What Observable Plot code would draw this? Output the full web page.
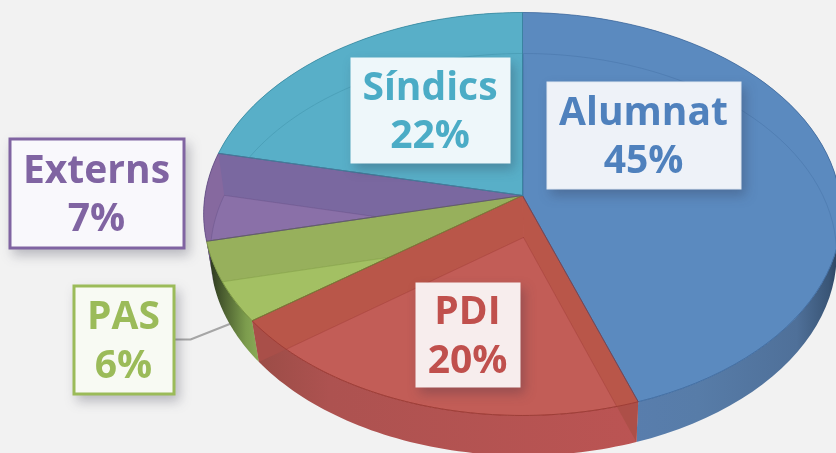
<!DOCTYPE html>
<html>
<head>
<meta charset="utf-8">
<script src="https://cdn.jsdelivr.net/npm/d3@7"></script>
<script src="https://cdn.jsdelivr.net/npm/@observablehq/plot@0.6"></script>
<style>
html,body{margin:0;padding:0;background:#f2f2f2;overflow:hidden}
svg{display:block;filter:blur(.7px)}
g[aria-label="rect"]{filter:drop-shadow(4px 6px 6px rgba(40,40,60,.28))}
</style>
</head>
<body>
<div id="chart"></div>
<script>
// Data
const names  = ["Alumnat", "PDI", "PAS", "Externs", "Síndics"];
const shares = [44.6, 20.3, 6.5, 7.05, 21.55]; // slice sizes
const labels = [45, 20, 6, 7, 22];             // printed percentages

// Colours
const textColor = ["#4f81bd", "#c0504d", "#9bbb59", "#8064a2", "#4bacc6"];
const faceColor = ["#5b8abf", "#c25d57", "#a3c063", "#86699f", "#58afc8"];
const floorColor = ["#5b8abf", "#c25d57", "#a3c063", "#8a70a8", "#58afc8"];
const sideColor = ["#5b8abf", "#b95649", "#97b05c", "#7a68a0", "#58afc8"];
const wallFill = ["url(#wallBlue)", "url(#wallRed)", "url(#wallGreen)", "#6a5488", "#3f8ea3"];
const lineColor = ["#3f6a9e", "#96352f", "#6f8a3a", "#5d4a80", "#37889f"];

// Label boxes: [x1, x2, y1, y2]
const boxRects = [[547, 741, 82, 189], [416, 520, 283, 387], [74, 174, 286, 394], [10, 184, 139, 248], [351, 510, 58, 163]];
const boxFill = ["#eef2f8", "#f7eded", "#f8faf3", "#f9f8fc", "#eef7fa"];
const boxStroke = ["#dfe7f2", "#f7eded", "#9bbb59", "#8064a2", "#eef7fa"];
const boxStrokeWidth = [1, 1, 3, 3, 1];

// Projection of the tilted disc
const rimTop = {cx: 522, cy: 195, f: 317.5, g: 199.8, k: 0.0918};
const rimLow = {cx: 523, cy: 237, f: 312, g: 199.6, k: 0.0846};
const project = (p, t) => {
  const X = Math.sin(t), Y = Math.cos(t), w = 1 + p.k * Y;
  return {x: p.cx + p.f * X / w, y: p.cy - p.g * Y / w};
};
const arc = (p, a, b) => d3.range(0, 61).map(i => project(p, a + (b - a) * i / 60));
const apex = p => ({x: p.cx, y: p.cy});
const close = pts => [...pts, pts[0]];

function clipConvex(subject, clip) {
  let area = 0;
  clip.forEach((a, i) => { const b = clip[(i + 1) % clip.length]; area += a.x * b.y - b.x * a.y; });
  const side = (a, b, p) => ((b.x - a.x) * (p.y - a.y) - (b.y - a.y) * (p.x - a.x)) * Math.sign(area);
  let out = subject;
  for (let i = 0; i < clip.length; ++i) {
    const a = clip[i], b = clip[(i + 1) % clip.length];
    if (Math.hypot(a.x - b.x, a.y - b.y) < 1e-6) continue;
    const src = out; out = [];
    for (let j = 0; j < src.length; ++j) {
      const p = src[j], q = src[(j + 1) % src.length];
      const sp = side(a, b, p), sq = side(a, b, q);
      if (sp >= 0) out.push(p);
      if (sp * sq < 0) {
        const u = sp / (sp - sq);
        out.push({x: p.x + (q.x - p.x) * u, y: p.y + (q.y - p.y) * u});
      }
    }
    if (!out.length) break;
  }
  return out;
}

let acc = 0;
const slices = names.map((name, i) => {
  const a = acc / 100 * 2 * Math.PI; acc += shares[i];
  const b = acc / 100 * 2 * Math.PI;
  const top = [apex(rimTop), ...arc(rimTop, a, b)];
  const low = [apex(rimLow), ...arc(rimLow, a, b)];
  const wall = [...arc(rimTop, a, b), ...arc(rimLow, a, b).reverse()];
  const quad = t => [apex(rimTop), project(rimTop, t), project(rimLow, t), apex(rimLow)];
  return {i, a, b, top, low, wall, sideA: quad(a), sideB: quad(b),
    floor: clipConvex(low, top)};
});

const poly = (pts, o) => Plot.line(close(pts), {x: "x", y: "y", curve: "linear", ...o});
const inSide = (s, q) => clipConvex(q, s.top);

const gradient = (defs, id, stops) => {
  const g = defs.append("linearGradient").attr("id", id);
  stops.forEach(([o, c]) => g.append("stop").attr("offset", o).attr("stop-color", c));
};
const defsMark = () => {
  const defs = d3.create("svg:defs");
  gradient(defs, "wallBlue", [[0, "#5b80b5"], [.55, "#577ca8"], [.86, "#4f7099"], [.96, "#3a5677"], [1, "#283c58"]]);
  gradient(defs, "wallRed", [[0, "#9a4c46"], [.2, "#ad5250"], [1, "#bb5453"]]);
  gradient(defs, "wallGreen", [[0, "#26301c"], [.35, "#4f6332"], [.75, "#7c9c4d"], [1, "#8aab57"]]);
  return defs.node();
};

const boxes = names.map((name, i) => ({
  x1: boxRects[i][0], x2: boxRects[i][1], y1: boxRects[i][2], y2: boxRects[i][3],
  fill: boxFill[i], stroke: boxStroke[i], sw: boxStrokeWidth[i],
  color: textColor[i], text: `${name}\n${labels[i]}%`
}));

const leader = [{x: 175, y: 339}, {x: 190, y: 339}, {x: 233, y: 322}];

const chart = Plot.plot({
  width: 836, height: 453, margin: 0,
  style: {background: "#f2f2f2"},
  x: {domain: [0, 836], range: [0, 836], axis: null},
  y: {domain: [0, 453], range: [0, 453], axis: null},
  marks: [
    defsMark,
    Plot.line(leader, {x: "x", y: "y", stroke: "#a6a6a6", strokeWidth: 2, curve: "linear"}),
    // outer walls
    slices.map(s => poly(s.wall, {fill: wallFill[s.i], stroke: "none"})),
    // wedge side seen through the front slice
    poly(slices[1].sideA, {fill: "#ad4f48", stroke: "none"}),
    poly(slices[1].sideB, {fill: "#a94f49", stroke: "none"}),
    // top faces
    slices.map(s => poly(s.top, {fill: faceColor[s.i], stroke: "none"})),
    // side walls seen through the top face
    slices.map(s => [s.sideA, s.sideB].map(q => {
      const c = inSide(s, q);
      return c.length > 2 ? poly(c, {fill: sideColor[s.i], stroke: "none"}) : null;
    })),
    // floors
    slices.map(s => s.floor.length > 2 ? poly(s.floor, {
      fill: floorColor[s.i], stroke: lineColor[s.i], strokeOpacity: .35, strokeWidth: 1
    }) : null),
    // outlines
    slices.map(s => poly(s.top, {fill: "none", stroke: lineColor[s.i], strokeOpacity: .75, strokeWidth: 1})),
    // label boxes
    Plot.rect(boxes, {
      x1: "x1", x2: "x2", y1: "y1", y2: "y2",
      fill: "fill", stroke: "stroke", strokeWidth: "sw"
    }),
    Plot.text(boxes, {
      x: d => (d.x1 + d.x2) / 2 - 1, y: d => (d.y1 + d.y2) / 2,
      text: "text", fill: "color", fontSize: 39, fontWeight: 700, dy: -2.5,
      fontFamily: "'Open Sans', sans-serif", lineHeight: 1.25, textAnchor: "middle"
    })
  ]
});
document.getElementById("chart").append(chart);
</script>
</body>
</html>
